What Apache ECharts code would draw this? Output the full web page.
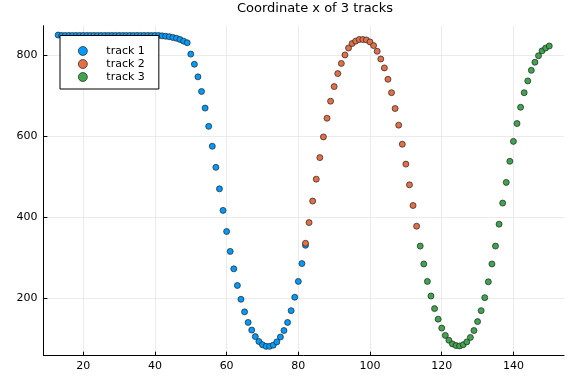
<!DOCTYPE html>
<html><head><meta charset="utf-8">
<script src="https://cdn.jsdelivr.net/npm/echarts@6/dist/echarts.min.js"></script>
<style>html,body{margin:0;padding:0;background:#fff}#c{width:576px;height:384px}</style>
</head><body><div id="c"></div>
<script>
const titleText = 'Coordinate x of 3 tracks';
const seriesNames = ['track 1', 'track 2', 'track 3'];
const seriesColors = ['#009AFA', '#E36F47', '#3EA44E'];

const track1X = [13,14,15,16,17,18,19,20,21,22,23,24,25,26,27,28,29,30,31,32,33,34,35,36,37,38,39,40,41,42,43,44,45,46,47,48,49,50,51,52,53,54,55,56,57,58,59,60,61,62,63,64,65,66,67,68,69,70,71,72,73,74,75,76,77,78,79,80,81,82];
const track1Y = [849,848,848,848,848,848,848,848,848,848,848,848,848,848,848,848,848,848,848,848,848,848,848,848,848,848,848,848,848,847,846,845,843,841,838,834,830,802,777,746,710,669,624,575,523,470,417,365,316,273,232,198,167,141,122,106,94,86,82,82,85,93,105,121,141,170,203,242,286,331];

const track2X = [82,83,84,85,86,87,88,89,90,91,92,93,94,95,96,97,98,99,100,101,102,103,104,105,106,107,108,109,110,111,112,113];
const track2Y = [336,387,440,494,547,598,644,686,722,754,779,800,817,828,834,838,838,837,832,823,809,790,768,740,707,668,627,580,531,480,429,378];

const track3X = [114,115,116,117,118,119,120,121,122,123,124,125,126,127,128,129,130,131,132,133,134,135,136,137,138,139,140,141,142,143,144,145,146,147,148,149,150];
const track3Y = [329,285,242,206,175,149,127,109,97,88,84,83,86,93,104,121,143,170,202,241,285,329,383,435,486,538,587,631,671,707,736,762,782,798,810,817,822];

const xTicks = [20, 40, 60, 80, 100, 120, 140];
const yTicks = [200, 400, 600, 800];

function pairs(xs, ys) { return xs.map((x, i) => [x, ys[i]]); }
const allX = track1X.concat(track2X, track3X);
const allY = track1Y.concat(track2Y, track3Y);
function padded(arr) {
  const lo = Math.min(...arr), hi = Math.max(...arr), r = hi - lo;
  return [lo - 0.03 * r, hi + 0.03 * r];
}
const [xMin, xMax] = padded(allX);
const [yMin, yMax] = padded(allY);

const font = 'DejaVu Sans';
const chart = echarts.init(document.getElementById('c'), null, {renderer: 'canvas'});
const tracks = [pairs(track1X, track1Y), pairs(track2X, track2Y), pairs(track3X, track3Y)];

chart.setOption({
  animation: false,
  backgroundColor: '#fff',
  graphic: [{
    type: 'text', x: 315, y: 9,
    style: {text: titleText, fontFamily: font, fontSize: 13, fill: '#000', align: 'center', verticalAlign: 'middle'}
  }],
  grid: {left: 43.4, right: 12, top: 25.7, bottom: 28.3, containLabel: false},
  legend: {
    orient: 'vertical', left: 60, top: 35.5,
    data: seriesNames, icon: 'circle', itemWidth: 9, itemHeight: 9, itemGap: 1,
    padding: [9.5, 14, 6, 18],
    backgroundColor: '#fff', borderColor: '#000', borderWidth: 1, borderRadius: 0,
    textStyle: {fontFamily: font, fontSize: 11, color: '#000', lineHeight: 12, padding: [0, 0, 0, 14]},
    itemStyle: {borderColor: '#222', borderWidth: 0.7}
  },
  xAxis: {
    type: 'value', min: xMin, max: xMax,
    axisLine: {show: true, onZero: false, lineStyle: {color: '#000', width: 1}},
    axisTick: {show: true, inside: true, length: 4, customValues: xTicks, lineStyle: {color: '#000'}},
    axisLabel: {customValues: xTicks, fontFamily: font, fontSize: 11, color: '#000', margin: 5},
    splitLine: {show: true, lineStyle: {color: '#ebebeb', width: 1}}
  },
  yAxis: {
    type: 'value', min: yMin, max: yMax,
    axisLine: {show: true, onZero: false, lineStyle: {color: '#000', width: 1}},
    axisTick: {show: true, inside: true, length: 4, customValues: yTicks, lineStyle: {color: '#000'}},
    axisLabel: {customValues: yTicks, fontFamily: font, fontSize: 11, color: '#000', margin: 6},
    splitLine: {show: true, lineStyle: {color: '#ebebeb', width: 1}}
  },
  series: tracks.map((d, i) => ({
    name: seriesNames[i], type: 'scatter', data: d, symbol: 'circle', symbolSize: 6,
    itemStyle: {color: seriesColors[i], borderColor: '#222', borderWidth: 0.7, opacity: 1}
  }))
});
</script></body></html>
